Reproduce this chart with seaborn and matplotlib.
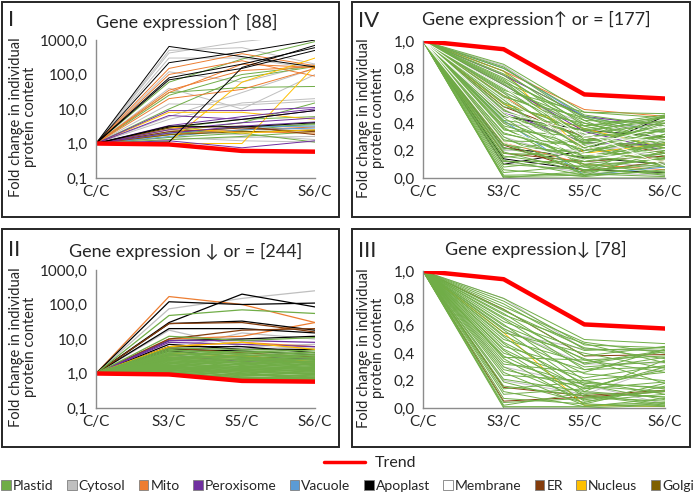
import pandas as pd
import matplotlib
matplotlib.use('Agg')
import matplotlib.pyplot as plt
from matplotlib.patches import Rectangle, Patch
from matplotlib.lines import Line2D
import seaborn as sns

# --- data (C/C is always 1,0; rows are S3/C, S5/C, S6/C) ---
stages = ['C/C', 'S3/C', 'S5/C', 'S6/C']
trend = [1.0, 0.94, 0.61, 0.58]

compartments = ['Plastid', 'Cytosol', 'Mito', 'Peroxisome', 'Vacuole',
                'Apoplast', 'Membrane', 'ER', 'Nucleus', 'Golgi']
comp_colors = ['#70AD47', '#BFBFBF', '#ED7D31', '#7030A0', '#5B9BD5',
               '#000000', '#FFFFFF', '#843C0C', '#FFC000', '#7F6000']

log_ticks = [0.1, 1, 10, 100, 1000]
log_labels = ['0,1', '1,0', '10,0', '100,0', '1000,0']
lin_ticks = [0.0, 0.2, 0.4, 0.6, 0.8, 1.0]
lin_labels = ['0,0', '0,2', '0,4', '0,6', '0,8', '1,0']

# panel I - gene expression up
p1_cytosol = [[420, 900, 1500], [500, 600, 200], [300, 300, 150], [120, 60, 200],
              [40, 10, 100], [6, 30, 150], [5, 15, 20], [2, 3, 2.5],
              [1.5, 1.2, 1.1], [2.5, 1.8, 1.3], [1.3, 1.5, 1.6], [14, 13, 17]]
p1_mito = [[150, 400, 180], [100, 250, 90], [35, 130, 170], [20, 37, 150],
           [30, 200, 160], [2.5, 2.2, 2.0], [1.8, 2.5, 3.0]]
p1_plastid = [[60, 280, 900], [25, 100, 180], [30, 42, 45], [10, 80, 170],
              [2.2, 4, 15], [1.8, 3, 3.5], [1.5, 2, 1.1], [2.8, 5, 6],
              [1.3, 1.6, 2.2], [2.0, 2.4, 3.8]]
p1_peroxisome = [[9, 9, 11], [6.5, 5, 9], [3.3, 6, 10], [1.2, 0.75, 1.2],
                 [2.5, 4, 5.5], [2, 3.2, 4.2]]
p1_apoplast = [[650, 330, 165], [220, 450, 1000], [80, 200, 600], [70, 150, 500],
               [1.1, 160, 700], [3, 5, 9], [3.2, 3, 4]]
p1_nucleus = [[1.1, 60, 300], [1.0, 1.0, 180], [8, 8, 5], [3, 2, 2.5]]
p1_vacuole = [[2, 3, 3.2], [1.6, 2.5, 2.8]]
p1_er = [[2.2, 2.8, 2.2], [2.8, 3.2, 1.8]]
p1_golgi = [[1.8, 2.2, 2.4]]

# panel II - gene expression down or equal
p2_cytosol = [[75, 150, 250], [18, 6, 7], [5, 15, 10], [4, 5, 6]]
p2_mito = [[170, 100, 30], [10, 12, 30], [6, 8, 6], [3, 2.5, 2], [2.5, 3.5, 1.8]]
p2_apoplast = [[120, 100, 110], [30, 200, 85], [28, 33, 18], [20, 20, 15],
               [9, 10, 12], [7, 5, 5], [6, 6, 4], [5, 4.5, 3.5], [4.5, 3, 2.6]]
p2_er = [[28, 30, 16], [10, 18, 20], [5.5, 4, 3]]
p2_peroxisome = [[9, 9, 8], [8, 7, 6], [3.5, 2.2, 2.8]]
p2_nucleus = [[6, 8, 5], [3.8, 3.2, 2.2]]
p2_plastid = [[48, 70, 55], [0.95, 0.72, 0.66], [1.0, 0.75, 0.7], [1.05, 0.8, 0.68],
              [1.1, 0.9, 0.75], [1.15, 0.7, 0.8], [1.2, 1.0, 0.72], [1.25, 0.85, 0.9],
              [1.3, 1.1, 0.95], [1.35, 0.78, 0.7], [1.4, 1.2, 1.0], [1.45, 0.95, 0.85],
              [1.5, 1.3, 1.1], [1.55, 1.05, 0.78], [1.6, 1.4, 1.2], [1.7, 1.15, 0.92],
              [1.75, 1.5, 1.3], [1.8, 0.9, 1.05], [1.9, 1.6, 1.4], [2.0, 1.25, 1.0],
              [2.1, 1.8, 1.5], [2.2, 1.35, 1.15], [2.3, 2.0, 1.6], [2.4, 1.55, 1.25],
              [2.5, 2.2, 1.8], [2.6, 1.7, 1.35], [2.7, 2.5, 2.0], [2.8, 1.9, 1.45],
              [2.9, 2.8, 2.2], [3.0, 2.1, 1.7], [3.2, 3.0, 2.5], [3.4, 2.4, 1.9],
              [3.6, 3.4, 2.8], [3.8, 2.7, 2.1], [4.0, 3.8, 3.2], [4.3, 3.0, 2.4],
              [4.6, 4.2, 3.6], [5.0, 3.5, 2.9], [3.3, 4.5, 4.0], [2.6, 3.2, 3.5],
              [1.9, 2.6, 3.0], [1.4, 1.9, 2.3], [5.5, 5.0, 4.5], [1.65, 2.3, 2.7],
              [1.2, 1.6, 1.9], [1.05, 1.3, 1.55], [12, 9, 11]]

# panel IV - gene expression up or equal
p4_cytosol = [[0.82, 0.44, 0.40], [0.70, 0.30, 0.20], [0.62, 0.40, 0.35],
              [0.50, 0.25, 0.15], [0.40, 0.32, 0.42], [0.30, 0.12, 0.08],
              [0.20, 0.20, 0.26], [0.12, 0.04, 0.02], [0.55, 0.15, 0.30]]
p4_mito = [[0.78, 0.50, 0.45], [0.60, 0.22, 0.12], [0.26, 0.10, 0.06]]
p4_peroxisome = [[0.75, 0.45, 0.38], [0.48, 0.26, 0.24], [0.68, 0.34, 0.20]]
p4_vacuole = [[0.80, 0.45, 0.33], [0.42, 0.02, 0.08]]
p4_apoplast = [[0.22, 0.15, 0.10], [0.10, 0.20, 0.45], [0.45, 0.35, 0.30],
               [0.14, 0.06, 0.04]]
p4_er = [[0.24, 0.05, 0.12], [0.52, 0.30, 0.18], [0.18, 0.12, 0.16]]
p4_nucleus = [[0.78, 0.18, 0.25], [0.54, 0.36, 0.22]]
p4_plastid = [[0.83, 0.48, 0.44], [0.81, 0.42, 0.40], [0.80, 0.46, 0.38], [0.78, 0.38, 0.46],
              [0.76, 0.44, 0.30], [0.75, 0.35, 0.42], [0.73, 0.40, 0.26], [0.72, 0.30, 0.36],
              [0.70, 0.45, 0.33], [0.69, 0.28, 0.22], [0.68, 0.36, 0.45], [0.66, 0.25, 0.30],
              [0.65, 0.42, 0.18], [0.63, 0.32, 0.40], [0.62, 0.20, 0.28], [0.60, 0.38, 0.24],
              [0.58, 0.27, 0.35], [0.57, 0.15, 0.20], [0.55, 0.34, 0.44], [0.54, 0.22, 0.12],
              [0.52, 0.40, 0.28], [0.50, 0.18, 0.32], [0.49, 0.30, 0.16], [0.47, 0.12, 0.25],
              [0.46, 0.26, 0.38], [0.44, 0.08, 0.14], [0.42, 0.35, 0.22], [0.41, 0.20, 0.42],
              [0.40, 0.10, 0.18], [0.38, 0.24, 0.08], [0.37, 0.05, 0.28], [0.35, 0.30, 0.34],
              [0.33, 0.16, 0.10], [0.32, 0.22, 0.40], [0.30, 0.02, 0.05], [0.28, 0.14, 0.26],
              [0.27, 0.26, 0.20], [0.25, 0.06, 0.15], [0.24, 0.18, 0.36], [0.22, 0.10, 0.04],
              [0.21, 0.28, 0.30], [0.19, 0.04, 0.12], [0.18, 0.16, 0.24], [0.16, 0.08, 0.02],
              [0.15, 0.22, 0.46], [0.13, 0.02, 0.09], [0.12, 0.12, 0.18], [0.10, 0.06, 0.03],
              [0.08, 0.14, 0.22], [0.06, 0.01, 0.06], [0.04, 0.09, 0.14], [0.02, 0.03, 0.01],
              [0.0, 0.0, 0.0], [0.0, 0.05, 0.10], [0.01, 0.02, 0.20], [0.64, 0.48, 0.47],
              [0.71, 0.24, 0.14], [0.59, 0.44, 0.26], [0.45, 0.38, 0.44], [0.36, 0.12, 0.32]]
p4_membrane = [[0.66, 0.30, 0.27], [0.46, 0.21, 0.33], [0.34, 0.18, 0.12],
               [0.58, 0.23, 0.38], [0.26, 0.13, 0.21], [0.48, 0.33, 0.09]]

# panel III - gene expression down
p3_cytosol = [[0.80, 0.43, 0.42], [0.30, 0.17, 0.03], [0.20, 0.10, 0.30],
              [0.58, 0.32, 0.33], [0.55, 0.43, 0.42]]
p3_er = [[0.72, 0.38, 0.39], [0.05, 0.08, 0.12], [0.15, 0.09, 0.13]]
p3_nucleus = [[0.55, 0.02, 0.01]]
p3_plastid = [[0.80, 0.50, 0.47], [0.78, 0.46, 0.44], [0.76, 0.43, 0.42], [0.74, 0.48, 0.40],
              [0.72, 0.38, 0.45], [0.71, 0.44, 0.36], [0.69, 0.32, 0.41], [0.68, 0.47, 0.33],
              [0.66, 0.35, 0.38], [0.65, 0.28, 0.30], [0.63, 0.42, 0.44], [0.61, 0.20, 0.26],
              [0.60, 0.36, 0.18], [0.58, 0.30, 0.34], [0.57, 0.16, 0.12], [0.55, 0.40, 0.29],
              [0.53, 0.25, 0.20], [0.52, 0.12, 0.08], [0.50, 0.33, 0.42], [0.48, 0.18, 0.15],
              [0.47, 0.08, 0.05], [0.45, 0.28, 0.37], [0.43, 0.14, 0.19], [0.42, 0.05, 0.10],
              [0.40, 0.22, 0.31], [0.38, 0.10, 0.03], [0.37, 0.35, 0.26], [0.36, 0.03, 0.16],
              [0.34, 0.17, 0.06], [0.32, 0.26, 0.43], [0.30, 0.06, 0.13], [0.28, 0.15, 0.28],
              [0.26, 0.02, 0.04], [0.24, 0.20, 0.10], [0.21, 0.12, 0.35], [0.19, 0.04, 0.18],
              [0.16, 0.09, 0.02], [0.14, 0.19, 0.14], [0.12, 0.01, 0.07], [0.10, 0.14, 0.30],
              [0.07, 0.03, 0.01], [0.04, 0.07, 0.12], [0.01, 0.01, 0.03], [0.0, 0.0, 0.02],
              [0.02, 0.11, 0.08]]


def to_long(groups):
    rows = []
    n = 0
    for comp, lines in groups:
        for line in lines:
            for i, v in enumerate([1.0] + line):
                rows.append({'line': n, 'comp': comp, 'stage': i, 'value': v})
            n += 1
    return pd.DataFrame(rows)


panels = [
    {'rect': (96, 40, 315, 178), 'log': True, 'roman': 'I', 'title': 'Gene expression↑ [88]',
     'title_xy': (187, 22), 'lw': 0.7,
     'groups': [('Cytosol', p1_cytosol), ('Plastid', p1_plastid), ('Mito', p1_mito),
                ('Vacuole', p1_vacuole), ('ER', p1_er), ('Golgi', p1_golgi),
                ('Nucleus', p1_nucleus), ('Peroxisome', p1_peroxisome), ('Apoplast', p1_apoplast)]},
    {'rect': (423, 41, 665, 178), 'log': False, 'roman': 'IV', 'title': 'Gene expression↑ or = [177]',
     'title_xy': (536, 19), 'lw': 0.7,
     'groups': [('Cytosol', p4_cytosol), ('Apoplast', p4_apoplast), ('ER', p4_er),
                ('Nucleus', p4_nucleus), ('Mito', p4_mito), ('Peroxisome', p4_peroxisome),
                ('Vacuole', p4_vacuole), ('Plastid', p4_plastid), ('Membrane', p4_membrane)]},
    {'rect': (96, 270, 315, 408), 'log': True, 'roman': 'II', 'title': 'Gene expression ↓ or = [244]',
     'title_xy': (186, 251), 'lw': 0.9,
     'groups': [('Cytosol', p2_cytosol), ('Mito', p2_mito), ('Apoplast', p2_apoplast),
                ('ER', p2_er), ('Peroxisome', p2_peroxisome), ('Nucleus', p2_nucleus),
                ('Plastid', p2_plastid)]},
    {'rect': (423, 271, 665, 408), 'log': False, 'roman': 'III', 'title': 'Gene expression↓ [78]',
     'title_xy': (536, 249), 'lw': 0.7,
     'groups': [('Cytosol', p3_cytosol), ('ER', p3_er), ('Nucleus', p3_nucleus),
                ('Plastid', p3_plastid)]},
]

sns.set_style('white')
plt.rcParams['font.family'] = ['Lato', 'DejaVu Sans']

W, H = 700, 495
fig = plt.figure(figsize=(7, 4.95), dpi=100)
palette = dict(zip(compartments, comp_colors))
trend_df = pd.DataFrame({'stage': range(4), 'value': trend})

# panel frames
for l, t, r, b in [(2, 2, 339, 217), (352, 2, 690, 217), (2, 229, 339, 447), (352, 229, 690, 447)]:
    fig.add_artist(Rectangle((l / W, 1 - b / H), (r - l) / W, (b - t) / H,
                             transform=fig.transFigure, fill=False,
                             edgecolor='#262626', lw=1.4))

for p in panels:
    l, t, r, b = p['rect']
    ax = fig.add_axes([l / W, 1 - b / H, (r - l) / W, (b - t) / H])
    df = to_long(p['groups'])
    order = [g[0] for g in p['groups']]
    sns.lineplot(data=df, x='stage', y='value', hue='comp', hue_order=order,
                 palette=palette, units='line', estimator=None, lw=p['lw'],
                 legend=False, ax=ax)
    sns.lineplot(data=trend_df, x='stage', y='value', color='#FF0000', lw=3.2, ax=ax)

    if p['log']:
        ax.set_yscale('log')
        ax.set_ylim(0.1, 1000)
        ax.set_yticks(log_ticks)
        ax.set_yticklabels(log_labels)
        ax.minorticks_off()
        lab_x = -0.27
    else:
        ax.set_ylim(0, 1.0)
        ax.set_yticks(lin_ticks)
        ax.set_yticklabels(lin_labels)
        lab_x = -0.155
    ax.set_xlim(0, 3)
    ax.set_xticks(range(4))
    ax.set_xticklabels(stages)
    ax.set_xlabel('')
    ax.set_ylabel('Fold change in individual\nprotein content', fontsize=10.5, linespacing=1.0)
    ax.yaxis.set_label_coords(lab_x, 0.44)
    for s in ['top', 'right']:
        ax.spines[s].set_visible(False)
    for s in ['left', 'bottom']:
        ax.spines[s].set_color('#8C8C8C')
        ax.spines[s].set_linewidth(1.0)
    ax.tick_params(axis='y', length=4, color='#8C8C8C', labelsize=11, pad=2)
    ax.tick_params(axis='x', length=0, labelsize=11, pad=5)

    tx, ty = p['title_xy']
    fig.text(tx / W, 1 - ty / H, p['title'], fontsize=13, ha='center', va='center')
    frame_left = 8 if l < 300 else 358
    fig.text(frame_left / W, 1 - (t - 20) / H, p['roman'], fontsize=16, va='center', ha='left')

# legends
fig.legend(handles=[Line2D([], [], color='#FF0000', lw=2.5)], labels=['Trend'],
           loc='center', bbox_to_anchor=(370 / W, 1 - 463 / H), frameon=False,
           fontsize=11.5, handlelength=2.6, handletextpad=0.6)
handles = [Patch(facecolor=c, edgecolor='#7F7F7F', lw=0.6) for c in comp_colors]
fig.legend(handles=handles, labels=compartments, loc='center left',
           bbox_to_anchor=(-0.002, 1 - 486 / H), ncol=10, frameon=False, fontsize=10,
           handlelength=0.7, handleheight=0.7, handletextpad=0.15, columnspacing=0.95,
           borderaxespad=0, borderpad=0.2)

fig.savefig('out.png', dpi=100)
